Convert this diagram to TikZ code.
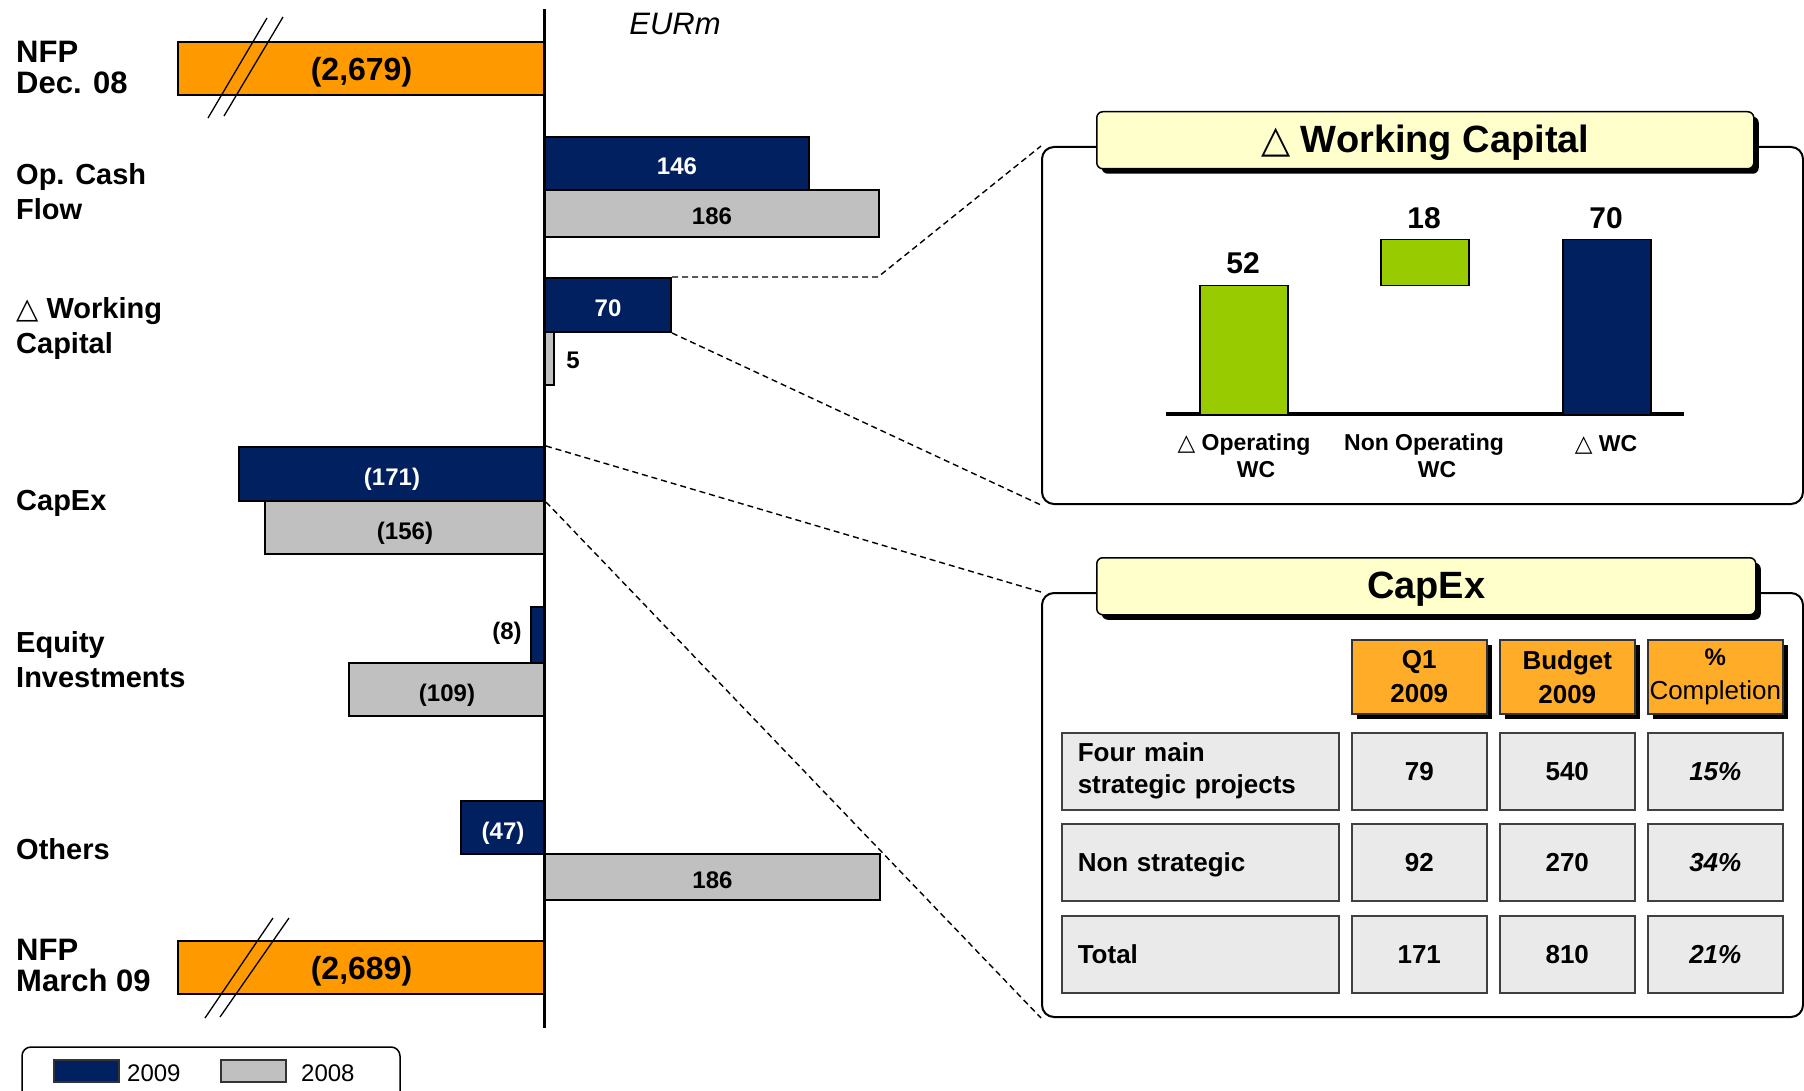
\documentclass[tikz,border=0pt]{standalone}
\usepackage{fontspec}
\setmainfont{Liberation Sans}
\newfontfamily\djv{DejaVu Sans}
\usetikzlibrary{shadows}
\definecolor{navy}{RGB}{0,32,96}
\definecolor{lgray}{RGB}{192,192,192}
\definecolor{orng}{RGB}{255,153,0}
\definecolor{grn}{RGB}{153,204,0}
\definecolor{ttl}{RGB}{255,255,204}
\definecolor{hdr}{RGB}{255,172,40}
\definecolor{cellc}{RGB}{234,234,234}
\newcommand{\fsz}[2]{\fontsize{#1}{#2}\selectfont}
\newcommand{\tri}{{\djv\mdseries △}}
\begin{document}
\begin{tikzpicture}[x=1pt,y=-1pt,
  bar/.style={draw=black,line width=2pt,inner sep=0pt,anchor=north west,font=\bfseries\fsz{24}{28},
    text height=23pt,text depth=0pt},
  b09/.style={bar,fill=navy,text=white},
  b08/.style={bar,fill=lgray,text=black},
  nfpbar/.style={bar,fill=orng,text=black,font=\bfseries\fsz{32}{36},text height=24pt,text depth=0pt},
  lbl/.style={anchor=west,align=left,inner sep=0pt,font=\bfseries\fsz{29}{35}},
  nfplbl/.style={anchor=west,align=left,inner sep=0pt,font=\bfseries\fsz{31}{31}},
  val/.style={inner sep=0pt,font=\bfseries\fsz{24}{28}},
  conn/.style={dashed,line width=1.4pt,dash pattern=on 6pt off 4pt},
  obox/.style={draw=black,line width=2pt,rounded corners=12pt,anchor=north west,inner sep=0pt},
  ttlbox/.style={draw=black,line width=1.5pt,fill=ttl,rounded corners=6pt,anchor=north west,inner sep=0pt,
    font=\bfseries\fsz{38}{40},text height=25pt,text depth=0pt,
    drop shadow={shadow xshift=5pt,shadow yshift=-5pt,fill=black,opacity=1}},
  wcbar/.style={draw=black,line width=1.5pt,anchor=north west,inner sep=0pt,minimum width=88pt},
  wcval/.style={inner sep=0pt,font=\bfseries\fsz{30}{32}},
  wccat/.style={inner sep=0pt,align=center,font=\bfseries\fsz{23}{24}},
  hcell/.style={draw=black!80,line width=1.5pt,fill=hdr,anchor=north west,inner sep=0pt,
    minimum width=135pt,minimum height=74pt,align=center,font=\bfseries\fsz{26}{34},
    drop shadow={shadow xshift=5pt,shadow yshift=-5pt,fill=black,opacity=1}},
  dcell/.style={draw=black!75,line width=1.5pt,fill=cellc,anchor=north west,inner sep=0pt,
    minimum width=135pt,minimum height=77pt,align=center,font=\bfseries\fsz{26}{32}},
  pcell/.style={dcell,font=\bfseries\itshape\fsz{26}{32}},
  rlab/.style={dcell,text width=245pt,inner xsep=16pt,inner ysep=0pt,align=left},
  legsw/.style={draw=black!80,line width=1.5pt,anchor=north west,inner sep=0pt,minimum width=65pt,minimum height=22pt},
  legtx/.style={anchor=west,inner sep=0pt,font=\fsz{24}{28}}
]
\useasboundingbox (0,0) rectangle (1804,1091);
\clip (0,0) rectangle (1804,1091);

% ---------- left chart ----------
\node[inner sep=0pt,font=\itshape\fsz{31}{33}] (eur) at (675,24) {EURm};

\node[nfplbl] (l1) at (16,67) {NFP\\Dec. 08};
\node[lbl] (l2) at (16,192) {Op. Cash\\Flow};
\node[lbl] (l3) at (16,329) {\tri\ Working\\Capital};
\node[lbl] (l4) at (16,503) {CapEx};
\node[lbl] (l5) at (16,660) {Equity\\Investments};
\node[lbl] (l6) at (16,849) {Others};
\node[nfplbl] (l7) at (16,965) {NFP\\March 09};

\node[nfpbar,minimum width=367pt,minimum height=53pt] (nfp1) at (177,41) {(2,679)};
\draw[line width=1.3pt] (208,118) -- (267,18) (224,116) -- (283,17);

\node[b09,minimum width=264pt,minimum height=53pt] (b146) at (544,136) {146};
\node[b08,minimum width=334pt,minimum height=47pt] (b186) at (544,189) {186};

\node[b09,minimum width=126pt,minimum height=54pt] (b70) at (544,277) {70};
\node[b08,minimum width=9pt,minimum height=53pt] (b5) at (544,331) {};
\node[val] (t5) at (573,360) {5};

\node[b09,minimum width=306pt,minimum height=54pt] (b171) at (238,446) {(171)};
\node[b08,minimum width=280pt,minimum height=53pt] (b156) at (264,500) {(156)};

\node[b09,minimum width=14pt,minimum height=56pt] (b8) at (530,606) {};
\node[val] (t8) at (507,633) {(8)};
\node[b08,minimum width=196pt,minimum height=53pt] (b109) at (348,662) {(109)};

\node[b09,minimum width=84pt,minimum height=53pt] (b47) at (460,800) {(47)};
\node[b08,minimum width=335pt,minimum height=46pt] (b186b) at (544,853) {186};

\node[nfpbar,minimum width=367pt,minimum height=53pt] (nfp2) at (177,940) {(2,689)};
\draw[line width=1.3pt] (205,1018) -- (273,918) (220,1017) -- (289,918);

\draw[line width=3pt] (544,9) -- (544,1028);

% legend
\draw[line width=1.5pt,rounded corners=9pt] (22,1047) rectangle (400,1115);
\node[legsw,fill=navy] (sw1) at (53,1059) {};
\node[legtx] (lt1) at (127,1073) {2009};
\node[legsw,fill=lgray] (sw2) at (220,1059) {};
\node[legtx] (lt2) at (301,1073) {2008};

% ---------- Working capital box ----------
\node[obox,minimum width=761pt,minimum height=357pt] (wcbox) at (1041,146) {};
\node[ttlbox,minimum width=657pt,minimum height=57pt] (wct) at (1096,111) {\tri\ Working Capital};

\draw[line width=4pt] (1166,414) -- (1684,414);
\node[wcbar,fill=grn,minimum height=129pt] (g52) at (1199,285) {};
\node[wcbar,fill=grn,minimum height=46pt] (g18) at (1380,239) {};
\node[wcbar,fill=navy,minimum height=175pt] (n70) at (1562,239) {};
\node[wcval] (v52) at (1243,263) {52};
\node[wcval] (v18) at (1424,218) {18};
\node[wcval] (v70) at (1606,218) {70};
\node[wccat] (c1a) at (1244,445) {\tri\ Operating};
\node[wccat] (c1b) at (1256,470) {WC};
\node[wccat] (c2a) at (1424,445) {Non Operating};
\node[wccat] (c2b) at (1437,470) {WC};
\node[wccat] (c3) at (1606,445) {\tri\ WC};

% ---------- CapEx box ----------
\node[obox,minimum width=761pt,minimum height=424pt] (capbox) at (1041,592) {};
\node[ttlbox,minimum width=659pt,minimum height=57pt] (capt) at (1096,557) {CapEx};

\node[hcell] (h1) at (1351,639) {Q1\\2009};
\node[hcell] (h2) at (1499,639) {Budget\\2009};
\node[hcell] (h3) at (1647,639) {\fsz{24}{34}\%\\\mdseries Completion};

\node[rlab] (r1) at (1061,732) {Four main\\strategic projects};
\node[dcell] (r1a) at (1351,732) {79};
\node[dcell] (r1b) at (1499,732) {540};
\node[pcell] (r1c) at (1647,732) {15\%};

\node[rlab,text depth=0pt] (r2) at (1061,823) {Non strategic};
\node[dcell] (r2a) at (1351,823) {92};
\node[dcell] (r2b) at (1499,823) {270};
\node[pcell] (r2c) at (1647,823) {34\%};

\node[rlab,text depth=0pt] (r3) at (1061,915) {Total};
\node[dcell] (r3a) at (1351,915) {171};
\node[dcell] (r3b) at (1499,915) {810};
\node[pcell] (r3c) at (1647,915) {21\%};

% ---------- connectors ----------
\coordinate (k1) at (878,277);
\draw[conn] (b70.north east) -- (k1) -- (wcbox.north west);
\draw[conn] (b70.south east) -- (wcbox.south west);
\draw[conn] (b171.north east) -- (capbox.north west);
\draw[conn] (b171.south east) -- (capbox.south west);
\end{tikzpicture}
\end{document}
